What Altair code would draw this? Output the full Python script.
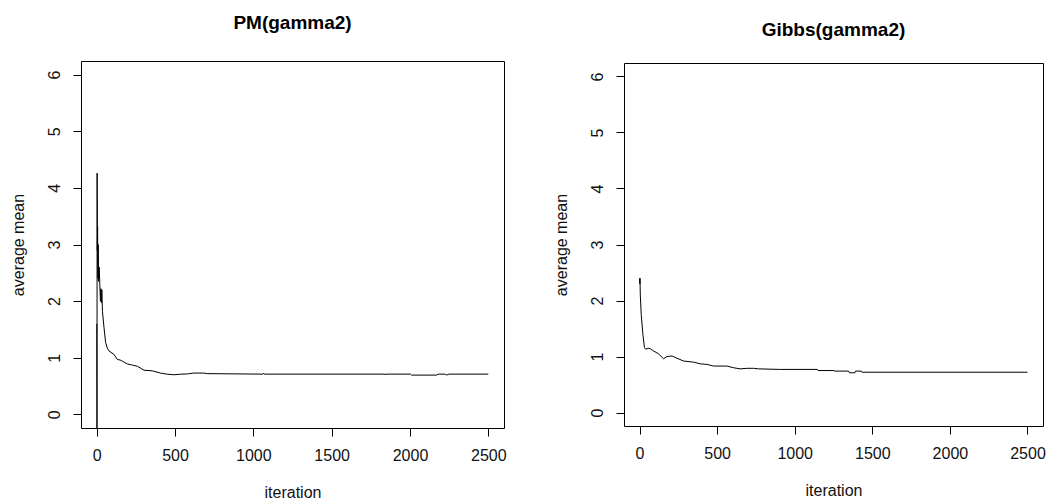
import altair as alt
import pandas as pd

# ---- data ----
pm_iter = [1, 2, 3, 4, 6, 8, 10, 12, 16, 20, 24, 27, 30, 33, 37, 47, 57, 68, 79,
           110, 132, 150, 164, 196, 230, 260, 302, 355, 408, 450, 493, 536, 580,
           620, 684, 706, 1062, 1066, 1070, 1840, 1843, 1846, 2003, 2010, 2170,
           2180, 2225, 2232, 2250, 2500]
pm_value = [1.6, -0.6, 4.26, 2.9, 3.32, 2.4, 3.0, 2.35, 2.6, 2.3, 2.0, 2.22, 1.97,
            2.2, 1.82, 1.53, 1.27, 1.17, 1.12, 1.06, 0.97, 0.96, 0.94, 0.89, 0.87,
            0.85, 0.78, 0.77, 0.73, 0.71, 0.70, 0.71, 0.715, 0.73, 0.73, 0.72,
            0.711, 0.728, 0.711, 0.711, 0.696, 0.711, 0.711, 0.694, 0.694, 0.711,
            0.711, 0.694, 0.711, 0.711]

gibbs_iter = [1, 2, 3, 5, 11, 22, 32, 40, 55, 69, 90, 122, 155, 176, 209, 241,
              284, 348, 391, 434, 477, 563, 606, 649, 692, 735, 767, 904, 1146,
              1150, 1253, 1255, 1348, 1352, 1388, 1392, 1428, 1432, 2500]
gibbs_value = [2.39, 2.30, 2.40, 2.10, 1.75, 1.39, 1.16, 1.13, 1.15, 1.14, 1.10,
               1.05, 0.96, 1.00, 1.01, 0.97, 0.92, 0.90, 0.87, 0.86, 0.83, 0.83,
               0.80, 0.78, 0.79, 0.79, 0.78, 0.77, 0.77, 0.75, 0.75, 0.74, 0.74,
               0.71, 0.71, 0.74, 0.74, 0.72, 0.72]

x_ticks = [0, 500, 1000, 1500, 2000, 2500]
y_ticks = [0, 1, 2, 3, 4, 5, 6]

FONT = "Liberation Sans"
TXT = "#111111"

pm_df = pd.DataFrame({"iteration": pm_iter, "value": pm_value})
gibbs_df = pd.DataFrame({"iteration": gibbs_iter, "value": gibbs_value})


def panel(df, title, width, height, title_offset):
    x = alt.X(
        "iteration:Q",
        scale=alt.Scale(domain=[-100, 2600], nice=False, zero=False),
        axis=alt.Axis(values=x_ticks, title="iteration", labelPadding=11,
                      titlePadding=21, format="d"),
    )
    y = alt.Y(
        "value:Q",
        scale=alt.Scale(domain=[-0.24, 6.24], nice=False, zero=False),
        axis=alt.Axis(values=y_ticks, title="average mean", labelAngle=270,
                      labelAlign="center", labelBaseline="bottom",
                      labelPadding=11, titlePadding=20, format="d"),
    )
    return (
        alt.Chart(df)
        .mark_line(color="black", strokeWidth=1, clip=True)
        .encode(x=x, y=y, order="iteration:Q")
        .properties(
            width=width,
            height=height,
            title=alt.TitleParams(
                title, font=FONT, fontSize=19, fontWeight="bold", color="black",
                anchor="middle", frame="group", baseline="alphabetic",
                offset=title_offset,
            ),
        )
    )


left = panel(pm_df, "PM(gamma2)", 423, 367, 13)
right = panel(gibbs_df, "Gibbs(gamma2)", 419, 363, 8)

chart = (
    alt.hconcat(left, right, spacing=120, bounds="flush", center=True)
    .properties(padding={"left": 9, "top": 13, "right": 0, "bottom": 0},
                background="white")
    .configure_view(stroke="black", strokeWidth=1)
    .configure_axis(
        grid=False, domain=False, tickColor="black", tickSize=8, tickWidth=1,
        labelFont=FONT, labelFontSize=16, labelColor=TXT,
        titleFont=FONT, titleFontSize=16, titleFontWeight="normal",
        titleColor=TXT, labelFlush=False, labelOverlap=False,
    )
)

chart.save("out.html", embed_options={"renderer": "svg", "actions": False})
